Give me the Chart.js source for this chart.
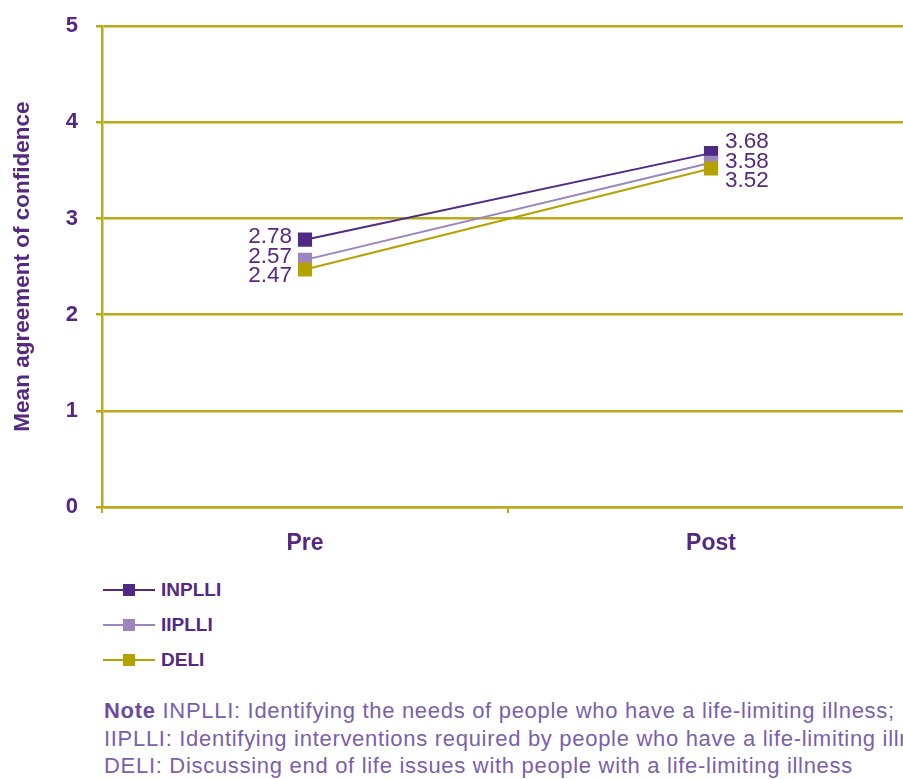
<!DOCTYPE html>
<html>
<head>
<meta charset="utf-8">
<script src="https://cdn.jsdelivr.net/npm/chart.js@4.4.0/dist/chart.umd.min.js"></script>
<style>
  html, body { margin:0; padding:0; background:#fff; width:903px; height:779px; overflow:hidden; }
  #wrap { position:absolute; left:0; top:-5px; width:924px; height:565px; }
  #legend { position:absolute; left:103px; top:575px; font-family:"Liberation Sans", Arial, sans-serif; font-weight:bold; font-size:19px; color:#55297f; }
  .row { position:relative; height:35px; line-height:30px; white-space:nowrap; }
  .icon { position:absolute; left:0; top:14px; width:52px; height:2px; }
  .sq { position:absolute; left:20px; top:-5px; width:12px; height:12px; }
  .lbl { position:absolute; left:58px; top:0; }
  #note { position:absolute; left:104px; top:697px; width:900px; font-family:"Liberation Sans", Arial, sans-serif; font-size:22px; letter-spacing:0.7px; line-height:27.5px; color:#7b5fa9; white-space:nowrap; }
</style>
</head>
<body>
<div id="wrap"><canvas id="c" width="924" height="565"></canvas></div>
<div id="legend"></div>
<div id="note"></div>
<script>
const categories = ['Pre', 'Post'];
const seriesNames = ['INPLLI', 'IIPLLI', 'DELI'];
const inplli = [2.78, 3.68];
const iiplli = [2.57, 3.58];
const deli = [2.47, 3.52];
const yTicks = [0, 1, 2, 3, 4, 5];
const yTitle = 'Mean agreement of confidence';
const noteLines = [
  ['Note', ' INPLLI: Identifying the needs of people who have a life-limiting illness;'],
  ['', 'IIPLLI: Identifying interventions required by people who have a life-limiting illness;'],
  ['', 'DELI: Discussing end of life issues with people with a life-limiting illness']
];

const colors = ['#4e2a84', '#9a85bf', '#b3a200'];
const gridColor = '#b9aa1c';
const textColor = '#55297f';
const FONT = '"Liberation Sans", Arial, sans-serif';

const valueLabels = {
  id: 'valueLabels',
  afterDatasetsDraw(chart) {
    const ctx = chart.ctx;
    const gap = 19.5;
    ctx.save();
    ctx.font = '22.5px ' + FONT;
    ctx.fillStyle = textColor;
    ctx.textBaseline = 'middle';
    chart.data.labels.forEach((lab, i) => {
      const items = chart.data.datasets.map((ds, d) => {
        const el = chart.getDatasetMeta(d).data[i];
        return { x: el.x, y: el.y, v: ds.data[i] };
      });
      items.sort((a, b) => a.y - b.y);
      const placed = [];
      items.forEach((it, k) => {
        let y = it.y;
        if (k > 0) y = Math.max(y, placed[k - 1] + gap);
        placed.push(y);
      });
      const m1 = items.reduce((s, it) => s + it.y, 0) / items.length;
      const m2 = placed.reduce((s, y) => s + y, 0) / placed.length;
      const shift = m1 - m2;
      items.forEach((it, k) => {
        const y = placed[k] + shift;
        if (i === 0) { ctx.textAlign = 'right'; ctx.fillText(it.v.toFixed(2), it.x - 13, y); }
        else { ctx.textAlign = 'left'; ctx.fillText(it.v.toFixed(2), it.x + 14, y); }
      });
    });
    ctx.restore();
  }
};

const seriesData = [inplli, iiplli, deli];
const chart = new Chart(document.getElementById('c'), {
  type: 'line',
  data: {
    labels: categories,
    datasets: seriesNames.map((name, i) => ({
      label: name,
      data: seriesData[i],
      borderColor: colors[i],
      backgroundColor: colors[i],
      borderWidth: 2,
      pointStyle: 'rect',
      pointRadius: 10,
      pointBorderWidth: 0,
      pointBackgroundColor: colors[i],
      pointBorderColor: colors[i],
      tension: 0
    })).reverse()
  },
  options: {
    responsive: false,
    animation: false,
    devicePixelRatio: 1,
    layout: { padding: { top: 20, right: 2, left: 0, bottom: 0 } },
    plugins: { legend: { display: false }, tooltip: { enabled: false } },
    scales: {
      x: {
        type: 'category',
        offset: true,
        grid: { offset: true, drawOnChartArea: false, color: gridColor, lineWidth: 2, tickLength: 6 },
        border: { color: gridColor, width: 2.5 },
        ticks: { color: textColor, font: { family: FONT, size: 23, weight: 'bold' }, padding: 17 },
        afterFit(s) { s.height = 53; }
      },
      y: {
        min: 0, max: 5,
        afterBuildTicks(s) { s.ticks = yTicks.map(v => ({ value: v })); },
        grid: { color: gridColor, lineWidth: 2.5, tickLength: 6 },
        border: { color: gridColor, width: 2.5 },
        ticks: { color: textColor, font: { family: FONT, size: 22, weight: 'bold' }, padding: 18 },
        title: { display: true, text: yTitle, color: textColor, font: { family: FONT, size: 22.5, weight: 'bold' }, padding: { top: 9, bottom: 0 } },
        afterFit(s) { s.width = 102; }
      }
    }
  },
  plugins: [valueLabels]
});

// HTML legend built from series
const leg = document.getElementById('legend');
seriesNames.forEach((name, i) => {
  const row = document.createElement('div');
  row.className = 'row';
  row.innerHTML = '<div class="icon" style="background:' + colors[i] + '"><div class="sq" style="background:' + colors[i] + '"></div></div><span class="lbl"></span>';
  row.querySelector('.lbl').textContent = name;
  leg.appendChild(row);
});
const note = document.getElementById('note');
noteLines.forEach(([b, t]) => {
  const d = document.createElement('div');
  if (b) { const s = document.createElement('span'); s.style.fontWeight = 'bold'; s.style.color = '#6c4b9e'; s.textContent = b; d.appendChild(s); }
  d.appendChild(document.createTextNode(t));
  note.appendChild(d);
});
</script>
</body>
</html>
